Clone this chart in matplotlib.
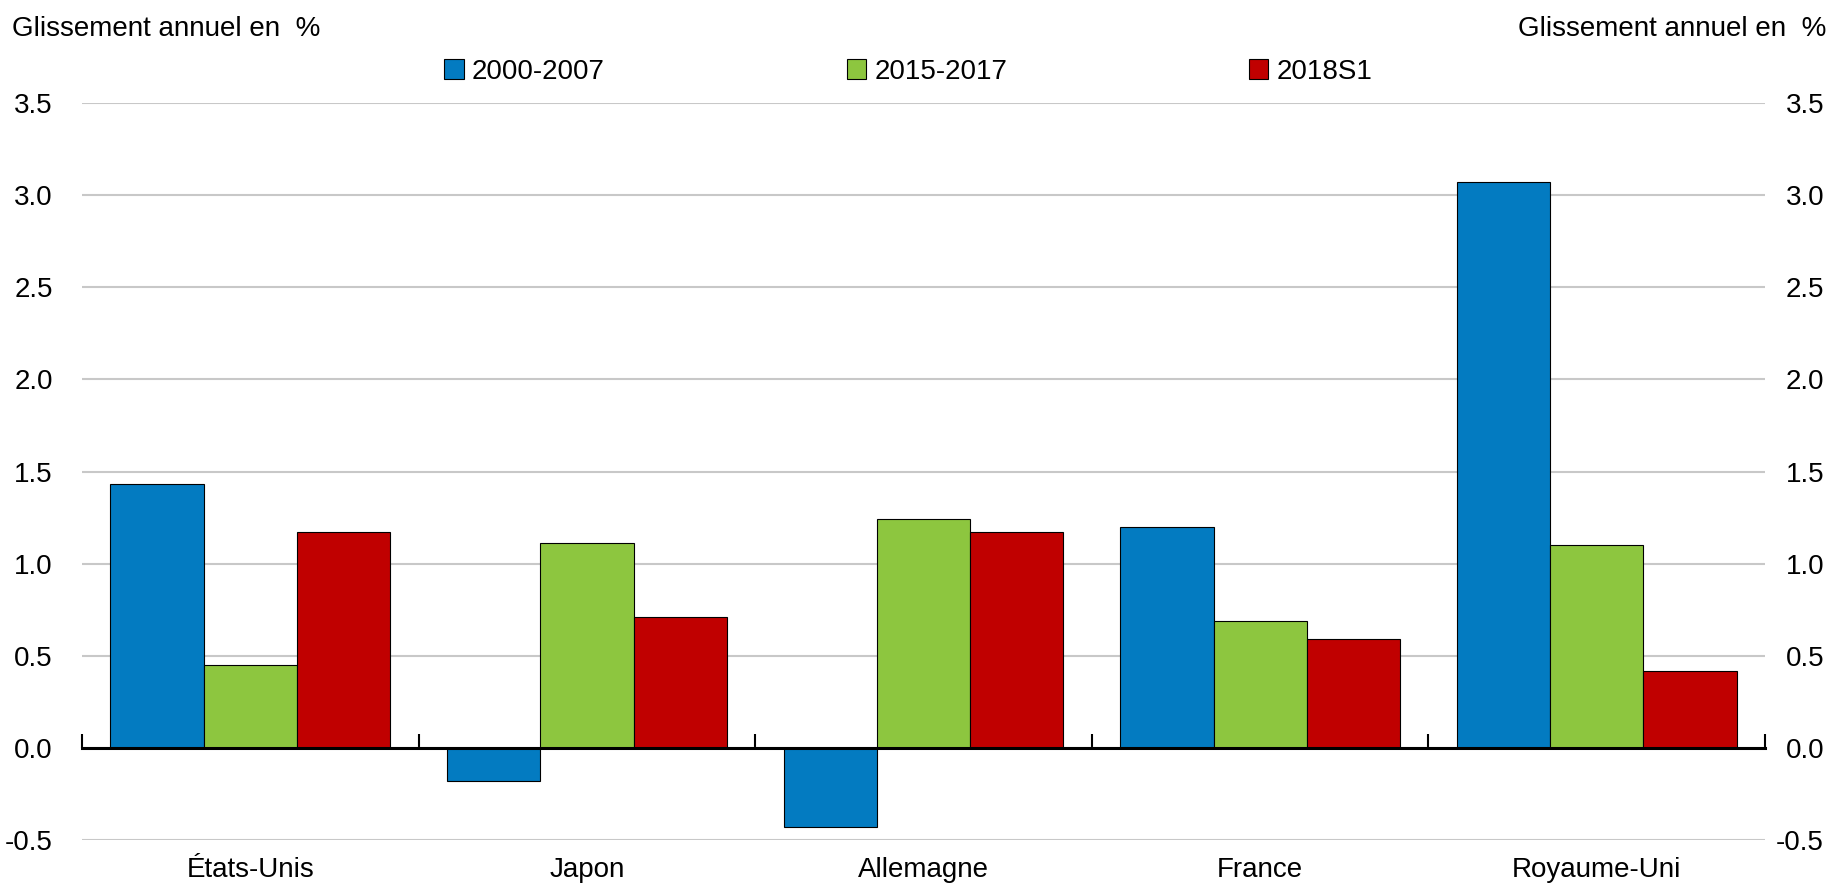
import matplotlib
matplotlib.use('Agg')
import matplotlib.pyplot as plt
import matplotlib.transforms as mtransforms
from matplotlib import font_manager
import numpy as np

countries = ['États-Unis', 'Japon', 'Allemagne', 'France', 'Royaume-Uni']
series_names = ['2000-2007', '2015-2017', '2018S1']
v_2000_2007 = [1.43, -0.18, -0.43, 1.20, 3.07]
v_2015_2017 = [0.45, 1.11, 1.24, 0.69, 1.10]
v_2018s1 = [1.17, 0.71, 1.17, 0.59, 0.42]
yticks = [-0.5, 0.0, 0.5, 1.0, 1.5, 2.0, 2.5, 3.0, 3.5]
unit_label = 'Glissement annuel en  %'

colors = ['#037BC1', '#8DC63F', '#C00000']

# Arial Narrow look-alike if present, otherwise plain Liberation Sans
names = {f.name for f in font_manager.fontManager.ttflist}
if 'Liberation Sans Narrow' in names:
    plt.rcParams['font.family'] = ['Liberation Sans Narrow', 'DejaVu Sans']
    FS = 21
else:
    plt.rcParams['font.family'] = ['Liberation Sans', 'DejaVu Sans']
    FS = 20

fig = plt.figure(figsize=(18.39, 8.88), dpi=100)
ax = fig.add_axes([0.0446, 0.054, 0.9152, 0.830])

x = np.arange(len(countries))
width = 0.277
for i, (vals, name) in enumerate(zip([v_2000_2007, v_2015_2017, v_2018s1], series_names)):
    ax.bar(x + (i - 1) * width, vals, width, color=colors[i], edgecolor='black',
           linewidth=0.8, label=name, zorder=3)

ax.set_xlim(-0.5, len(countries) - 0.5)
ax.set_ylim(-0.5, 3.5)
ax.set_yticks(yticks)
ax.set_yticklabels([f'{t:.1f}' for t in yticks])
ax.grid(axis='y', color='#c8c8c8', linewidth=1.5, zorder=0)
ax.set_axisbelow(True)

for s in ['top', 'left', 'right']:
    ax.spines[s].set_visible(False)
# zero line carries the category separator ticks
ax.spines['bottom'].set_position(('data', 0))
ax.spines['bottom'].set_linewidth(2.2)
ax.spines['bottom'].set_zorder(4)
ax.set_xticks(np.arange(len(countries) + 1) - 0.5)
ax.tick_params(axis='x', direction='in', length=10, width=1.5, labelbottom=False)

ax.tick_params(axis='y', length=0, labelsize=FS, pad=21, right=True, labelright=True)

sec = ax.secondary_xaxis('bottom')
sec.set_xticks(x)
sec.set_xticklabels(countries)
sec.tick_params(length=0, labelsize=FS, pad=12)
sec.spines['bottom'].set_visible(False)

fig.text(0.0065, 0.982, unit_label, ha='left', va='top', fontsize=FS)
fig.text(0.993, 0.982, unit_label, ha='right', va='top', fontsize=FS)

fig.legend(loc='center', bbox_to_anchor=(0.494, 0.919), ncol=3, frameon=False,
           fontsize=FS, handlelength=0.7, handleheight=0.7, handletextpad=0.3,
           columnspacing=8.7)

# right-hand labels are right aligned near the figure edge
right_off = mtransforms.ScaledTranslation(59 / 100, 0, fig.dpi_scale_trans)
for t in ax.yaxis.get_major_ticks():
    t.label2.set_horizontalalignment('right')
    t.label2.set_transform(ax.get_yaxis_transform('tick2') + right_off)

fig.savefig('out.png', dpi=100)
